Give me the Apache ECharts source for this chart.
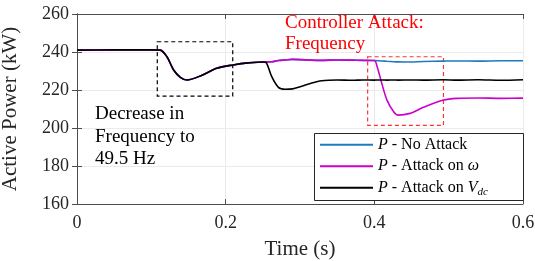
<!DOCTYPE html>
<html>
<head>
<meta charset="utf-8">
<script src="https://cdn.jsdelivr.net/npm/echarts@6/dist/echarts.min.js"></script>
<style>
  html, body { margin: 0; padding: 0; background: #fff; }
  #chart { width: 535px; height: 261px; }
</style>
</head>
<body>
<div id="chart"></div>
<script>
  // time axis (s)
  const timeS = [0, 0.05, 0.1, 0.112, 0.121, 0.13, 0.139, 0.148, 0.166, 0.188, 0.21, 0.23, 0.251, 0.255, 0.262, 0.271,
    0.28, 0.29, 0.3, 0.315, 0.329, 0.35, 0.37, 0.385, 0.4, 0.404, 0.41, 0.417, 0.426, 0.432, 0.448, 0.466,
    0.493, 0.511, 0.54, 0.57, 0.6]
  // active power (kW)
  const attackVdc = [241, 241.1, 241.1, 241, 237.5, 230.5, 226.7, 225.3, 227.4, 231.4, 233.2, 234.3, 234.7, 234.2, 227, 221.4,
    220.4, 220.6, 221.7, 223.6, 224.9, 225.3, 225.1, 225.3, 225.2, 225.3, 225.3, 225.2, 225.3, 225.2, 225.3, 225.2,
    225.4, 225.2, 225.4, 225.1, 225.4]
  const attackOmega = [241, 241.1, 241.1, 241, 237.5, 230.5, 226.7, 225.3, 227.4, 231.4, 233.2, 234.3, 234.7, 234.8, 234.9, 235.5,
    235.8, 236.1, 236, 235.7, 235.6, 235.8, 235.7, 235.6, 235.5, 232, 223.5, 214.7, 208.6, 206.8, 207.7, 210.9,
    214.7, 215.6, 215.8, 215.6, 215.7]
  const noAttack = [241, 241.1, 241.1, 241, 237.5, 230.5, 226.7, 225.3, 227.4, 231.4, 233.2, 234.3, 234.7, 234.8, 234.9, 235.5,
    235.8, 236.1, 236, 235.7, 235.6, 235.8, 235.7, 235.6, 235.5, 235.4, 235.3, 235.1, 234.9, 234.8, 234.7, 235,
    235.2, 235.3, 235.2, 235.4, 235.4]
  const xTicks = [0, 0.2, 0.4, 0.6]
  const yTicks = [160, 180, 200, 220, 240, 260]
  // dashed boxes [t0, p0, t1, p1]
  const freqBox = [0.108, 245.4, 0.2095, 216.8]
  const ctrlBox = [0.391, 237.5, 0.493, 201.4]

  const font = 'serif'
  const axisColor = '#4d4d4d'
  const lineIcon = 'path://M0,0H53V2H0Z'

  const pairs = (ys) => timeS.map((t, i) => [t, ys[i]])
  const box = (b, color) => ({
    silent: true,
    itemStyle: { color: 'rgba(0,0,0,0)', borderColor: color, borderWidth: 1.2, borderType: [4, 3] },
    data: [[{ coord: [b[0], b[1]] }, { coord: [b[2], b[3]] }]]
  })
  const sideAxis = {
    axisLine: { show: true, lineStyle: { color: axisColor } },
    axisTick: { show: true, inside: true, length: 5, lineStyle: { color: axisColor } },
    axisLabel: { show: false },
    splitLine: { show: false }
  }

  const chart = echarts.init(document.getElementById('chart'))
  chart.setOption({
    animation: false,
    textStyle: { fontFamily: font },
    grid: { left: 77, right: 12, top: 14, bottom: 57, outerBoundsMode: 'none', containLabel: false },
    xAxis: [{
      type: 'value',
      min: xTicks[0],
      max: xTicks[xTicks.length - 1],
      interval: 0.2,
      name: 'Time (s)',
      nameLocation: 'middle',
      nameGap: 35,
      nameTextStyle: { fontFamily: font, fontSize: 21, color: '#262626' },
      axisLine: { lineStyle: { color: axisColor } },
      axisTick: { inside: true, length: 5, lineStyle: { color: axisColor } },
      axisLabel: { fontFamily: font, fontSize: 18, color: '#262626', margin: 10,
        formatter: (v) => xTicks.includes(+v.toFixed(1)) ? String(+v.toFixed(1)) : '' },
      splitLine: { lineStyle: { color: '#ebebeb' } }
    }, Object.assign({ type: 'value', position: 'top', min: 0, max: 0.6, interval: 0.2 }, sideAxis)],
    yAxis: [{
      type: 'value',
      min: yTicks[0],
      max: yTicks[yTicks.length - 1],
      interval: 20,
      name: 'Active Power (kW)',
      nameLocation: 'middle',
      nameGap: 56,
      nameTextStyle: { fontFamily: font, fontSize: 21, color: '#262626' },
      axisLine: { show: true, lineStyle: { color: axisColor } },
      axisTick: { show: true, inside: true, length: 5, lineStyle: { color: axisColor } },
      axisLabel: { fontFamily: font, fontSize: 18, color: '#262626', margin: 8 },
      splitLine: { lineStyle: { color: '#ebebeb' } }
    }, Object.assign({ type: 'value', position: 'right', min: 160, max: 260, interval: 20 }, sideAxis)],
    legend: {
      orient: 'vertical',
      left: 320,
      top: 134,
      z: 10,
      itemWidth: 53,
      itemHeight: 2,
      itemGap: 0,
      padding: 0,
      data: ['noAttack', 'attackOmega', 'attackVdc'].map((n) => ({ name: n, icon: lineIcon })),
      formatter: (name) => ({
        noAttack: '{i|P} - No Attack',
        attackOmega: '{i|P} - Attack on {i|ω}',
        attackVdc: '{i|P} - Attack on {i|V}{sub|dc}'
      })[name],
      textStyle: {
        fontFamily: font, fontSize: 16, color: '#000', lineHeight: 21.5,
        rich: {
          i: { fontFamily: font, fontSize: 16, fontStyle: 'italic', color: '#000', lineHeight: 21.5 },
          sub: { fontFamily: font, fontSize: 11, fontStyle: 'italic', color: '#000', lineHeight: 21.5, padding: [8, 0, 0, 0] }
        }
      }
    },
    graphic: [
      { type: 'rect', left: 314, top: 133, shape: { width: 209, height: 67 }, z: 5,
        style: { fill: '#fff', stroke: '#262626', lineWidth: 1 } },
      { type: 'text', left: 285, top: 13, z: 100,
        style: { text: 'Controller Attack:\nFrequency', fill: '#ff0000', fontFamily: font, fontSize: 19, lineHeight: 21 } },
      { type: 'text', left: 95, top: 103, z: 100,
        style: { text: 'Decrease in\nFrequency to\n49.5 Hz', fill: '#000', fontFamily: font, fontSize: 19, lineHeight: 22.5 } }
    ],
    series: [
      { name: 'noAttack', type: 'line', data: pairs(noAttack), symbol: 'none', smooth: 0.3,
        lineStyle: { color: '#1f7bc0', width: 1.6 }, itemStyle: { color: '#1f7bc0' } },
      { name: 'attackOmega', type: 'line', data: pairs(attackOmega), symbol: 'none', smooth: 0.3,
        lineStyle: { color: '#cc00cc', width: 1.6 }, itemStyle: { color: '#cc00cc' },
        markArea: box(ctrlBox, '#ff3333') },
      { name: 'attackVdc', type: 'line', data: pairs(attackVdc), symbol: 'none', smooth: 0.3,
        lineStyle: { color: '#000', width: 1.6 }, itemStyle: { color: '#000' },
        markArea: box(freqBox, '#000') }
    ]
  })
</script>
</body>
</html>
